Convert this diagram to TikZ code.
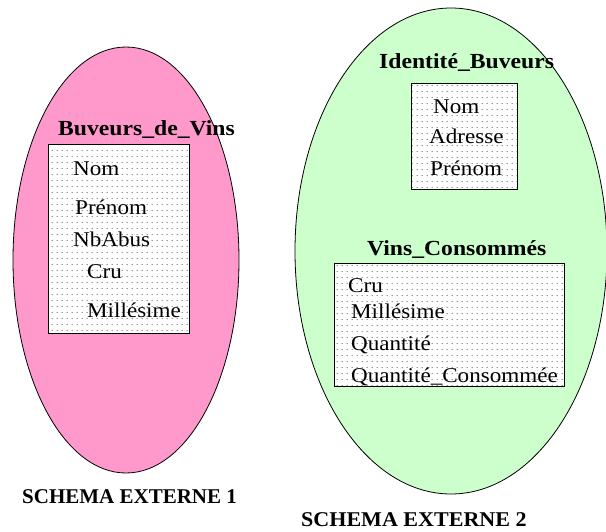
\documentclass[tikz,border=0pt]{standalone}
\usepackage{fontspec}
\setmainfont{Liberation Serif}
\usetikzlibrary{shapes.geometric,patterns.meta}

\definecolor{rosefill}{RGB}{255,153,204}
\definecolor{vertfill}{RGB}{204,255,204}

% fine grid of dots used inside the relation boxes
\tikzdeclarepattern{
  name=finedots,
  type=uncolored,
  bounding box={(0pt,0pt) and (5pt,5.5pt)},
  tile size={(5pt,5.5pt)},
  code={\fill (2.5pt,2.75pt) circle (0.6pt);}
}

\newcommand\attrtext[1]{\fontsize{21}{24}\selectfont\scalebox{1.1}[1]{#1}}
\newcommand\reltitle[1]{\fontsize{21.5}{24}\selectfont\bfseries\scalebox{1.1}[1]{#1}}

\tikzset{
  schema/.style={ellipse, draw=black, line width=0.8pt, inner sep=0pt},
  relbox/.style={draw=black, line width=0.8pt, preaction={fill=white},
    pattern=finedots, pattern color=black!80, inner sep=0pt, anchor=north west},
  attr/.style={anchor=base west, inner sep=0pt},
  title/.style={anchor=base west, inner sep=0pt},
  caption/.style={anchor=base west, inner sep=0pt, font=\fontsize{21}{24}\selectfont\bfseries}
}

\begin{document}
\begin{tikzpicture}[x=1pt,y=-1pt]
\useasboundingbox (0,0) rectangle (606,531);

% external schemas
\node[schema, fill=rosefill, minimum width=226pt, minimum height=426pt] (s1) at (126,260) {};
\node[schema, fill=vertfill, minimum width=312pt, minimum height=486pt] (s2) at (451,251) {};

% schema 1 : Buveurs_de_Vins
\node[relbox, minimum width=141pt, minimum height=189pt] (bdv) at (48,144) {};
\node[title] (bdvt) at (58,135) {\reltitle{Buveurs\_de\_Vins}};
\node[attr] (a1) at (73,175) {\attrtext{Nom}};
\node[attr] (a2) at (75,214) {\attrtext{Prénom}};
\node[attr] (a3) at (73,246) {\attrtext{NbAbus}};
\node[attr] (a4) at (87,278) {\attrtext{Cru}};
\node[attr] (a5) at (87,317) {\attrtext{Millésime}};

% schema 2 : Identité_Buveurs
\node[relbox, minimum width=106pt, minimum height=106pt] (ib) at (411,83) {};
\node[title] (ibt) at (379,68) {\reltitle{Identité\_Buveurs}};
\node[attr] (b1) at (433,113) {\attrtext{Nom}};
\node[attr] (b2) at (429,143) {\attrtext{Adresse}};
\node[attr] (b3) at (430,175) {\attrtext{Prénom}};

% schema 2 : Vins_Consommés
\node[relbox, minimum width=230pt, minimum height=123pt] (vc) at (334,263) {};
\node[title] (vct) at (367,255) {\reltitle{Vins\_Consommés}};
\node[attr] (c1) at (348,292) {\attrtext{Cru}};
\node[attr] (c2) at (351,318) {\attrtext{Millésime}};
\node[attr] (c3) at (351,350) {\attrtext{Quantité}};
\node[attr] (c4) at (351,382) {\attrtext{Quantité\_Consommée}};

% captions
\node[caption] (l1) at (22,503) {SCHEMA EXTERNE 1};
\node[caption] (l2) at (301,526) {\scalebox{1.05}[1]{SCHEMA EXTERNE 2}};
\end{tikzpicture}
\end{document}
